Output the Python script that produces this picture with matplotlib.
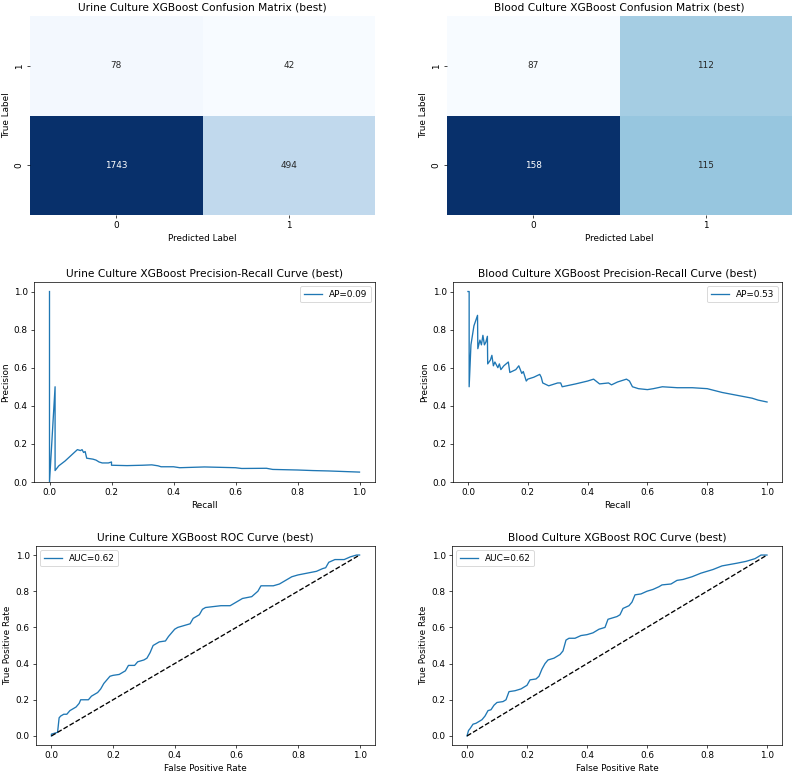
import matplotlib
matplotlib.use("Agg")
import matplotlib.pyplot as plt
import seaborn as sns
import numpy as np

# Confusion matrices, rows = true label (0, 1), cols = predicted label (0, 1)
urine_cm = [[1743, 494],
            [78, 42]]
blood_cm = [[158, 115],
            [87, 112]]

# Precision-recall curves
urine_recall = [0.0, 0.0, 0.018, 0.018, 0.03, 0.05, 0.07, 0.09, 0.10, 0.105, 0.11,
                0.115, 0.12, 0.14, 0.15, 0.16, 0.17, 0.19, 0.20, 0.20, 0.25, 0.30,
                0.33, 0.35, 0.36, 0.40, 0.42, 0.50, 0.55, 0.60, 0.62, 0.70, 0.72,
                0.80, 0.85, 0.90, 0.95, 1.0]
urine_precision = [1.0, 0.0, 0.5, 0.06, 0.085, 0.11, 0.14, 0.17, 0.165, 0.17, 0.155,
                   0.16, 0.125, 0.12, 0.115, 0.105, 0.10, 0.10, 0.105, 0.088, 0.086, 0.088,
                   0.09, 0.085, 0.08, 0.08, 0.075, 0.079, 0.077, 0.075, 0.071, 0.072, 0.066,
                   0.063, 0.06, 0.058, 0.055, 0.052]
urine_ap = 0.09

blood_recall = [0.0, 0.004, 0.004, 0.01, 0.02, 0.032, 0.033, 0.04, 0.045, 0.05, 0.055,
                0.06, 0.065, 0.066, 0.075, 0.08, 0.085, 0.09, 0.10, 0.105, 0.11, 0.12,
                0.135, 0.14, 0.16, 0.17, 0.18, 0.185, 0.195, 0.20, 0.22, 0.24, 0.245,
                0.25, 0.27, 0.30, 0.31, 0.315, 0.33, 0.36, 0.40, 0.42, 0.44, 0.47,
                0.48, 0.50, 0.53, 0.54, 0.55, 0.57, 0.60, 0.62, 0.65, 0.70, 0.75,
                0.80, 0.85, 0.90, 0.95, 0.97, 1.0]
blood_precision = [1.0, 1.0, 0.50, 0.72, 0.82, 0.875, 0.70, 0.745, 0.72, 0.77, 0.72,
                   0.735, 0.765, 0.62, 0.64, 0.665, 0.61, 0.63, 0.60, 0.62, 0.59, 0.61,
                   0.63, 0.575, 0.59, 0.61, 0.57, 0.58, 0.53, 0.54, 0.55, 0.565, 0.55,
                   0.52, 0.505, 0.52, 0.52, 0.50, 0.505, 0.515, 0.53, 0.54, 0.515, 0.52,
                   0.51, 0.525, 0.54, 0.53, 0.50, 0.49, 0.485, 0.49, 0.50, 0.495, 0.495,
                   0.49, 0.47, 0.455, 0.44, 0.43, 0.42]
blood_ap = 0.53

# ROC curves
urine_fpr = [0.0, 0.0, 0.02, 0.025, 0.03, 0.04, 0.05, 0.06, 0.07, 0.08, 0.09, 0.095,
             0.12, 0.13, 0.15, 0.16, 0.17, 0.19, 0.20, 0.22, 0.23, 0.24, 0.25, 0.27,
             0.28, 0.30, 0.31, 0.32, 0.33, 0.35, 0.37, 0.38, 0.39, 0.40, 0.41, 0.43,
             0.45, 0.46, 0.48, 0.49, 0.50, 0.55, 0.58, 0.60, 0.62, 0.65, 0.67, 0.68,
             0.72, 0.74, 0.76, 0.78, 0.80, 0.83, 0.86, 0.88, 0.89, 0.90, 0.92, 0.95,
             0.97, 0.99, 1.0]
urine_tpr = [0.0, 0.01, 0.02, 0.10, 0.11, 0.12, 0.12, 0.14, 0.15, 0.16, 0.18, 0.20,
             0.20, 0.22, 0.24, 0.26, 0.29, 0.33, 0.335, 0.34, 0.35, 0.36, 0.39, 0.39,
             0.41, 0.42, 0.43, 0.46, 0.50, 0.52, 0.525, 0.55, 0.57, 0.59, 0.60, 0.61,
             0.62, 0.65, 0.67, 0.70, 0.71, 0.72, 0.72, 0.74, 0.76, 0.77, 0.80, 0.83,
             0.83, 0.84, 0.86, 0.88, 0.89, 0.90, 0.91, 0.925, 0.93, 0.96, 0.975, 0.975,
             0.99, 1.0, 1.0]
urine_auc = 0.62

blood_fpr = [0.0, 0.005, 0.01, 0.02, 0.03, 0.04, 0.05, 0.06, 0.07, 0.08, 0.09, 0.10,
             0.12, 0.13, 0.14, 0.16, 0.18, 0.20, 0.21, 0.23, 0.24, 0.25, 0.26, 0.27,
             0.29, 0.31, 0.32, 0.33, 0.34, 0.36, 0.38, 0.40, 0.42, 0.44, 0.46, 0.47,
             0.50, 0.51, 0.52, 0.54, 0.55, 0.56, 0.58, 0.60, 0.62, 0.64, 0.65, 0.68,
             0.70, 0.72, 0.75, 0.78, 0.80, 0.82, 0.85, 0.90, 0.93, 0.96, 0.98, 1.0]
blood_tpr = [0.0, 0.03, 0.04, 0.065, 0.07, 0.08, 0.09, 0.11, 0.14, 0.145, 0.17, 0.185,
             0.19, 0.20, 0.245, 0.25, 0.26, 0.28, 0.31, 0.315, 0.33, 0.37, 0.40, 0.42,
             0.43, 0.45, 0.47, 0.53, 0.54, 0.54, 0.555, 0.56, 0.57, 0.59, 0.60, 0.645,
             0.66, 0.67, 0.705, 0.72, 0.74, 0.78, 0.785, 0.80, 0.81, 0.825, 0.835, 0.84,
             0.86, 0.865, 0.88, 0.90, 0.91, 0.92, 0.94, 0.955, 0.965, 0.98, 1.0, 1.0]
blood_auc = 0.62

W, H = 794, 773
DPI = 63.5
fig = plt.figure(figsize=(W / DPI, H / DPI))


def box(x0, y0, x1, y1):
    # pixel box (top-left origin) -> figure fraction rect
    return [x0 / W, (H - y1) / H, (x1 - x0) / W, (y1 - y0) / H]


def plot_cm(rect, cm, name):
    ax = fig.add_axes(rect)
    sns.heatmap(np.array(cm), annot=True, fmt='d', cmap='Blues', cbar=False, ax=ax)
    ax.invert_yaxis()
    ax.set_title(f"{name} XGBoost Confusion Matrix (best)")
    ax.set_xlabel("Predicted Label")
    ax.set_ylabel("True Label")


def plot_pr(rect, recall, precision, ap, name):
    ax = fig.add_axes(rect)
    ax.plot(recall, precision, label=f"AP={ap:.2f}")
    ax.set_ylim(0.0, 1.05)
    ax.set_title(f"{name} XGBoost Precision-Recall Curve (best)")
    ax.set_xlabel("Recall")
    ax.set_ylabel("Precision")
    ax.legend(loc='upper right')


def plot_roc(rect, fpr, tpr, auc, name):
    ax = fig.add_axes(rect)
    ax.plot(fpr, tpr, label=f"AUC={auc:.2f}")
    ax.plot([0, 1], [0, 1], 'k--')
    ax.set_title(f"{name} XGBoost ROC Curve (best)")
    ax.set_xlabel("False Positive Rate")
    ax.set_ylabel("True Positive Rate")
    ax.legend(loc='upper left')


plot_cm(box(30, 16, 375, 215), urine_cm, "Urine Culture")
plot_cm(box(447, 16, 792, 215), blood_cm, "Blood Culture")
plot_pr(box(34, 282, 375, 482), urine_recall, urine_precision, urine_ap, "Urine Culture")
plot_pr(box(453, 282, 782, 482), blood_recall, blood_precision, blood_ap, "Blood Culture")
plot_roc(box(36, 546, 375, 745), urine_fpr, urine_tpr, urine_auc, "Urine Culture")
plot_roc(box(452, 546, 782, 745), blood_fpr, blood_tpr, blood_auc, "Blood Culture")

fig.savefig("out.png", dpi=DPI)
